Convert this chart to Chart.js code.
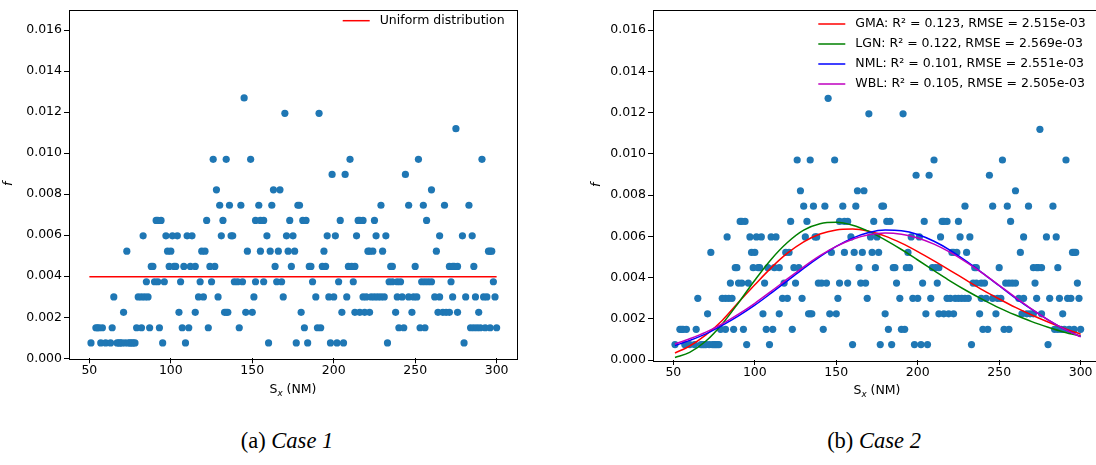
<!DOCTYPE html>
<html>
<head>
<meta charset="utf-8">
<script src="https://cdn.jsdelivr.net/npm/chart.js@4.4.1/dist/chart.umd.min.js"></script>
<style>
  html, body { margin: 0; padding: 0; background: #fff; width: 1096px; height: 465px; overflow: hidden; position: relative; }
  canvas { position: absolute; top: 0; }
  #left { left: 0; }
  #right { left: 584px; }
  .cap { position: absolute; top: 428px; font-family: "Liberation Serif", serif; font-size: 22.5px; line-height: 26px; white-space: nowrap; transform: translateX(-50%); color: #000; }
</style>
</head>
<body>
<canvas id="left" width="530" height="400"></canvas>
<canvas id="right" width="530" height="400"></canvas>
<div class="cap" style="left:287px">(a) <i>Case 1</i></div>
<div class="cap" style="left:874px">(b) <i>Case 2</i></div>
<script>
// f levels seen in the scatter (one row of dots per level)
const fLevels = [0.00075, 0.00149, 0.00224, 0.00299, 0.00373, 0.00448, 0.00522, 0.00597,
                 0.00672, 0.00746, 0.00821, 0.00896, 0.00970, 0.01119, 0.01194, 0.01269];

// S_x of the dots on each level
const sx1 = [51, 57, 60, 63, 67, 68, 69, 70, 72, 74, 75, 76, 77, 78, 95, 109, 160, 177, 184, 198, 202, 206, 233, 280];
const sx2 = [54, 55, 56, 58, 64, 79, 82, 87, 93, 107, 111, 123, 142, 182, 190, 192, 240, 243, 253, 256, 284, 286, 288, 290, 293, 296, 300];
const sx3 = [71, 105, 115, 133, 134, 135, 146, 150, 180, 205, 213, 216, 219, 222, 238, 248, 264, 267, 269, 271, 276, 289];
const sx4 = [65, 80, 82, 84, 86, 117, 120, 129, 151, 169, 189, 197, 200, 208, 218, 220, 223, 225, 227, 229, 231, 239, 242, 246, 249, 251, 262, 265, 273, 281, 287, 292, 294, 299];
const sx5 = [85, 90, 92, 96, 106, 118, 125, 139, 141, 144, 152, 157, 165, 168, 187, 203, 212, 234, 236, 239, 241, 254, 256, 258, 260, 272, 298];
const sx6 = [88, 89, 99, 102, 103, 108, 112, 115, 124, 127, 164, 174, 185, 186, 193, 195, 209, 211, 213, 235, 236, 250, 271, 273, 274, 276, 286];
const sx7 = [73, 98, 100, 119, 121, 147, 155, 161, 166, 172, 176, 194, 221, 222, 224, 230, 263, 295, 296, 297];
const sx8 = [83, 97, 101, 104, 110, 113, 131, 137, 138, 159, 171, 175, 196, 201, 214, 226, 232, 265, 279, 285];
const sx9 = [91, 92, 94, 122, 132, 152, 155, 157, 173, 181, 183, 204, 215, 216, 218, 225, 257];
const sx10 = [130, 136, 143, 154, 162, 178, 179, 229, 246, 255, 268, 283];
const sx11 = [128, 163, 167, 260];
const sx12 = [199, 207, 244];
const sx13 = [126, 134, 149, 210, 252, 291];
const sx15 = [275];
const sx16 = [170, 191];
const sx17 = [145];
const sxByLevel = [sx1, sx2, sx3, sx4, sx5, sx6, sx7, sx8, sx9, sx10, sx11, sx12, sx13, sx15, sx16, sx17];

const xTicks = [50, 100, 150, 200, 250, 300];
const yTicks = [0, 0.002, 0.004, 0.006, 0.008, 0.010, 0.012, 0.014, 0.016];

const uniformSx = [50, 300];
const uniformF = [0.00398, 0.00398];

// fitted pdfs
const curveSx = [51, 60, 70, 80, 90, 100, 110, 120, 130, 140, 150, 160, 170, 180, 190, 200, 210, 220, 230, 240, 250, 260, 270, 280, 290, 300];
const gmaF = [0.00034, 0.00068, 0.00122, 0.00192, 0.00280, 0.00365, 0.00447, 0.00518, 0.00573, 0.00611, 0.00631, 0.00635, 0.00624, 0.00601, 0.00567, 0.00526, 0.00481, 0.00434, 0.00386, 0.00339, 0.00296, 0.00255, 0.00218, 0.00184, 0.00153, 0.00125];
const lgnF = [0.00012, 0.00037, 0.00092, 0.00175, 0.00278, 0.00387, 0.00488, 0.00570, 0.00630, 0.00661, 0.00668, 0.00654, 0.00624, 0.00583, 0.00536, 0.00485, 0.00434, 0.00383, 0.00336, 0.00293, 0.00253, 0.00218, 0.00186, 0.00159, 0.00135, 0.00116];
const nmlF = [0.00070, 0.00095, 0.00127, 0.00168, 0.00214, 0.00266, 0.00324, 0.00384, 0.00444, 0.00501, 0.00551, 0.00591, 0.00618, 0.00630, 0.00627, 0.00609, 0.00576, 0.00532, 0.00478, 0.00420, 0.00360, 0.00300, 0.00245, 0.00195, 0.00150, 0.00114];
const wblF = [0.00078, 0.00103, 0.00135, 0.00175, 0.00222, 0.00275, 0.00333, 0.00393, 0.00452, 0.00506, 0.00551, 0.00586, 0.00608, 0.00616, 0.00610, 0.00592, 0.00562, 0.00522, 0.00474, 0.00420, 0.00362, 0.00304, 0.00247, 0.00195, 0.00150, 0.00113];

const fitLabels = [
  'GMA: R\u00b2 = 0.123, RMSE = 2.515e-03',
  'LGN: R\u00b2 = 0.122, RMSE = 2.569e-03',
  'NML: R\u00b2 = 0.101, RMSE = 2.551e-03',
  'WBL: R\u00b2 = 0.105, RMSE = 2.505e-03'
];
const fitColors = ['#ff0000', '#008000', '#0000ff', '#bf00bf'];

const FONT = 'DejaVu Sans';
Chart.defaults.font.family = FONT;
Chart.defaults.font.size = 12.5;
Chart.defaults.color = '#000';

const points = [];
sxByLevel.forEach((xs, i) => xs.forEach(x => points.push({ x: x, y: fLevels[i] })));

function xy(xs, ys) {
  return xs.map((x, i) => ({ x: x, y: ys[i] }));
}

// box around the axes, like matplotlib spines
const frame = {
  id: 'frame',
  afterDraw(chart) {
    const a = chart.chartArea, ctx = chart.ctx;
    ctx.save();
    ctx.strokeStyle = '#000';
    ctx.lineWidth = 1;
    ctx.strokeRect(Math.round(a.left) + 0.5, Math.round(a.top) + 0.5,
      Math.round(a.right - a.left), Math.round(a.bottom - a.top));
    ctx.restore();
  }
};

// legend without box, inside the axes
const mplLegend = {
  id: 'mplLegend',
  afterDraw(chart, args, opts) {
    const ctx = chart.ctx;
    ctx.save();
    ctx.font = '12.5px "' + FONT + '"';
    ctx.textBaseline = 'middle';
    opts.items.forEach((it, i) => {
      const y = opts.y + i * 20;
      ctx.strokeStyle = it.color;
      ctx.lineWidth = 1.5;
      ctx.beginPath();
      ctx.moveTo(opts.x, y);
      ctx.lineTo(opts.x + 27, y);
      ctx.stroke();
      ctx.fillStyle = '#000';
      ctx.fillText(it.text, opts.x + 37, y);
    });
    ctx.restore();
  }
};

// axis labels: italic f and S with subscript x
const axisText = {
  id: 'axisText',
  afterDraw(chart, args, opts) {
    const ctx = chart.ctx, a = chart.chartArea;
    ctx.save();
    ctx.fillStyle = '#000';
    ctx.translate(opts.fx, (a.top + a.bottom) / 2);
    ctx.rotate(-Math.PI / 2);
    ctx.font = 'italic 12.5px "' + FONT + '"';
    ctx.textAlign = 'center';
    ctx.textBaseline = 'middle';
    ctx.fillText('f', 0, 0);
    ctx.restore();

    ctx.save();
    ctx.fillStyle = '#000';
    ctx.textBaseline = 'alphabetic';
    const big = '12.5px "' + FONT + '"';
    const small = 'italic 8.8px "' + FONT + '"';
    ctx.font = big;
    const wS = ctx.measureText('S').width;
    const wRest = ctx.measureText(' (NM)').width;
    ctx.font = small;
    const wx = ctx.measureText('x').width;
    let x = (a.left + a.right) / 2 - (wS + wx + wRest) / 2;
    const y = opts.sy;
    ctx.font = big;
    ctx.fillText('S', x, y);
    x += wS;
    ctx.font = small;
    ctx.fillText('x', x, y + 3);
    x += wx;
    ctx.font = big;
    ctx.fillText(' (NM)', x, y);
    ctx.restore();
  }
};

function makeOptions(top, xHeight, legend, labels) {
  return {
    responsive: false,
    animation: false,
    events: [],
    layout: { padding: { left: 0, right: 13, top: top, bottom: 0 } },
    plugins: {
      legend: { display: false },
      tooltip: { enabled: false },
      mplLegend: legend,
      axisText: labels
    },
    scales: {
      x: {
        type: 'linear',
        min: 37.5,
        max: 312.5,
        afterBuildTicks: s => { s.ticks = xTicks.map(v => ({ value: v })); },
        afterFit: s => { s.height = xHeight; },
        grid: { drawOnChartArea: false, color: '#000', tickLength: 5, tickWidth: 1 },
        border: { display: false },
        ticks: { padding: 0, maxRotation: 0, autoSkip: false, callback: v => String(v) }
      },
      y: {
        type: 'linear',
        min: 0,
        max: 0.017,
        afterBuildTicks: s => { s.ticks = yTicks.map(v => ({ value: v })); },
        afterFit: s => { s.width = 69; },
        grid: { drawOnChartArea: false, color: '#000', tickLength: 5, tickWidth: 1 },
        border: { display: false },
        ticks: { padding: 2, autoSkip: false, callback: v => v.toFixed(3) }
      }
    }
  };
}

const scatterSet = {
  label: 'data',
  data: points,
  backgroundColor: '#1f77b4',
  borderWidth: 0,
  pointRadius: 3.6,
  pointHoverRadius: 3.6,
  order: 10
};

function curveSet(label, ys, color, order) {
  return {
    label: label,
    data: xy(curveSx, ys),
    showLine: true,
    borderColor: color,
    borderWidth: 1.5,
    pointRadius: 0,
    cubicInterpolationMode: 'monotone',
    fill: false,
    order: order
  };
}

new Chart(document.getElementById('left'), {
  type: 'scatter',
  data: {
    datasets: [
      {
        label: 'Uniform distribution',
        data: xy(uniformSx, uniformF),
        showLine: true,
        borderColor: '#ff0000',
        borderWidth: 1.5,
        pointRadius: 0,
        fill: false,
        order: 1
      },
      Object.assign({}, scatterSet, { data: points.slice() })
    ]
  },
  options: makeOptions(4, 41.7,
    { items: [{ text: 'Uniform distribution', color: '#ff0000' }], x: 342.7, y: 20.7 },
    { fx: 9, sy: 392.5 }),
  plugins: [frame, mplLegend, axisText]
});

new Chart(document.getElementById('right'), {
  type: 'scatter',
  data: {
    datasets: [
      curveSet(fitLabels[0], gmaF, fitColors[0], 4),
      curveSet(fitLabels[1], lgnF, fitColors[1], 3),
      curveSet(fitLabels[2], nmlF, fitColors[2], 2),
      curveSet(fitLabels[3], wblF, fitColors[3], 1),
      Object.assign({}, scatterSet, { data: points.slice() })
    ]
  },
  options: makeOptions(6, 40,
    { items: fitLabels.map((t, i) => ({ text: t, color: fitColors[i] })), x: 234.3, y: 24 },
    { fx: 13, sy: 393.5 }),
  plugins: [frame, mplLegend, axisText]
});
</script>
</body>
</html>
